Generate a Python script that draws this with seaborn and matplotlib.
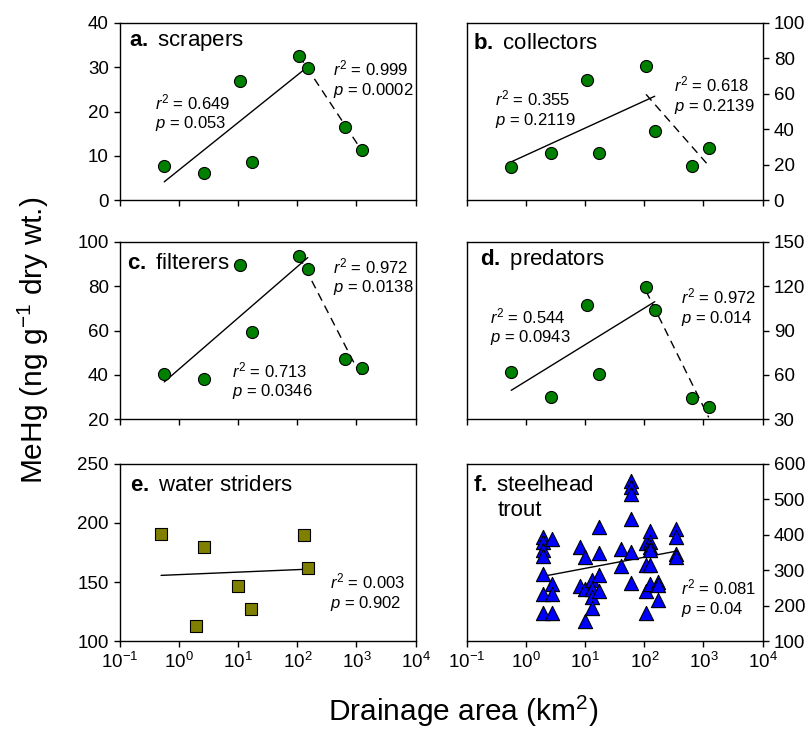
import matplotlib
matplotlib.use("Agg")
import matplotlib.pyplot as plt
import matplotlib.ticker as mticker
import seaborn as sns

# drainage area of the invertebrate sites (km2)
site_area = [0.56, 2.65, 10.7, 16.8, 107, 150, 643, 1230]

scrapers = [7.7, 6.2, 27.0, 8.6, 32.5, 29.9, 16.5, 11.4]
collectors = [18.8, 26.3, 67.7, 26.3, 75.6, 38.9, 19.4, 29.3]
filterers = [40.3, 38.3, 89.5, 59.4, 93.5, 88.0, 46.9, 42.9]
predators = [61.8, 44.7, 107.1, 60.5, 119.8, 104.2, 44.4, 38.1]

# upstream (solid fit) and downstream (dashed fit) site indices
upstream = [0, 1, 2, 3, 4, 5]
downstream = [4, 5, 6, 7]

strider_area = [0.495, 1.91, 2.65, 9.87, 16.4, 131, 152]
striders = [190.6, 112.7, 179.7, 146.7, 127.0, 189.8, 161.9]

trout_area = [1.94, 1.94, 1.94, 1.94, 1.94, 1.94, 1.94,
              2.76, 2.76, 2.76, 2.76,
              8.3, 8.3,
              9.9, 9.9, 9.9,
              13.2, 13.2, 13.2, 13.2,
              17.1, 17.1, 17.1, 17.1,
              39.8, 39.8,
              59, 59, 59, 59, 59, 59,
              105, 105, 105, 105,
              125, 125, 125, 125, 125, 125,
              170, 170, 170,
              340, 340, 340, 340]
trout = [394, 380, 356, 339, 290, 234, 180,
         387, 262, 232, 180,
         365, 255,
         337, 248, 157,
         272, 248, 225, 192,
         422, 349, 286, 242,
         361, 311,
         553, 534, 515, 446, 351, 264,
         376, 314, 241, 178,
         410, 379, 365, 356, 314, 262,
         267, 258, 215,
         417, 394, 347, 336]

sns.set_style("ticks")
plt.rcParams["font.family"] = ["Liberation Sans", "DejaVu Sans"]
plt.rcParams["mathtext.fontset"] = "custom"
plt.rcParams["mathtext.rm"] = "Liberation Sans"
plt.rcParams["mathtext.it"] = "Liberation Sans:italic"
plt.rcParams["mathtext.bf"] = "Liberation Sans:bold"
plt.rcParams["text.color"] = "black"
plt.rcParams["axes.labelcolor"] = "black"
plt.rcParams["xtick.color"] = "black"
plt.rcParams["ytick.color"] = "black"


def stats(r2, p):
    return f"$r^2$ = {r2}\n$p$ = {p}"


def setup_axis(ax, ylim, ystep, right, bottom_labels):
    ax.set_xscale("log")
    ax.set_xlim(0.1, 1e4)
    ax.set_ylim(*ylim)
    ax.xaxis.set_major_locator(mticker.LogLocator(base=10, numticks=10))
    ax.xaxis.set_minor_locator(mticker.NullLocator())
    ax.yaxis.set_major_locator(mticker.MultipleLocator(ystep))
    for s in ax.spines.values():
        s.set_visible(True)
        s.set_linewidth(1.0)
        s.set_color("black")
    ax.tick_params(direction="out", length=4.5, width=1, labelsize=13.5,
                   colors="black", labelbottom=bottom_labels)
    if right:
        ax.yaxis.tick_right()
    ax.set_xlabel("")
    ax.set_ylabel("")


fig = plt.figure(figsize=(8.12, 7.3), dpi=100)
lefts = [0.1478, 0.5751]
bottoms = [0.726, 0.426, 0.1219]
w, h = 0.364, 0.2425

green = "#008000"

panels = [
    ("a.", "scrapers", scrapers, (0, 40), 10, (0.032, 0.89),
     ("0.649", "0.053", 0.119, 0.494), ("0.999", "0.0002", 0.72, 0.683)),
    ("b.", "collectors", collectors, (0, 100), 20, (0.021, 0.885),
     ("0.355", "0.2119", 0.095, 0.513), ("0.618", "0.2139", 0.699, 0.593)),
    ("c.", "filterers", filterers, (20, 100), 20, (0.023, 0.88),
     ("0.713", "0.0346", 0.379, 0.216), ("0.972", "0.0138", 0.72, 0.804)),
    ("d.", "predators", predators, (30, 150), 30, (0.044, 0.90),
     ("0.544", "0.0943", 0.078, 0.522), ("0.972", "0.014", 0.725, 0.63)),
]

for i, (tag, name, vals, ylim, ystep, tpos, st_up, st_dn) in enumerate(panels):
    row, col = divmod(i, 2)
    ax = fig.add_axes([lefts[col], bottoms[row], w, h])
    ax.set_xscale("log")
    up_x = [site_area[k] for k in upstream]
    up_y = [vals[k] for k in upstream]
    dn_x = [site_area[k] for k in downstream]
    dn_y = [vals[k] for k in downstream]
    sns.regplot(x=up_x, y=up_y, logx=True, ci=None, scatter=False, truncate=True,
                color="black", line_kws=dict(lw=1.0), ax=ax)
    sns.regplot(x=dn_x, y=dn_y, logx=True, ci=None, scatter=False, truncate=True,
                color="black", line_kws=dict(lw=1.0, ls=(0, (6, 4))), ax=ax)
    sns.scatterplot(x=site_area, y=vals, color=green, edgecolor="black", s=75,
                    linewidth=0.8, marker="o", zorder=3, ax=ax)
    setup_axis(ax, ylim, ystep, right=(col == 1), bottom_labels=False)
    ax.text(tpos[0], tpos[1], rf"$\mathbf{{{tag}}}$ {name}", transform=ax.transAxes,
            fontsize=16, ha="left", va="center")
    for r2, p, tx, ty in (st_up, st_dn):
        ax.text(tx, ty, stats(r2, p), transform=ax.transAxes, fontsize=12,
                ha="left", va="center", linespacing=1.15)

# e. water striders
ax = fig.add_axes([lefts[0], bottoms[2], w, h])
ax.set_xscale("log")
sns.regplot(x=strider_area, y=striders, logx=True, ci=None, scatter=False,
            truncate=True, color="black", line_kws=dict(lw=1.0), ax=ax)
sns.scatterplot(x=strider_area, y=striders, color="#808000", edgecolor="black",
                s=65, linewidth=0.8, marker="s", zorder=3, ax=ax)
setup_axis(ax, (100, 250), 50, right=False, bottom_labels=True)
ax.text(0.034, 0.876, r"$\mathbf{e.}$ water striders", transform=ax.transAxes,
        fontsize=16, ha="left", va="center")
ax.text(0.712, 0.275, stats("0.003", "0.902"), transform=ax.transAxes,
        fontsize=12, ha="left", va="center", linespacing=1.15)

# f. steelhead trout
ax = fig.add_axes([lefts[1], bottoms[2], w, h])
ax.set_xscale("log")
sns.regplot(x=trout_area, y=trout, logx=True, ci=None, scatter=False,
            truncate=True, color="black", line_kws=dict(lw=1.0), ax=ax)
sns.scatterplot(x=trout_area, y=trout, color="#0000FF", edgecolor="black",
                s=105, linewidth=0.8, marker="^", zorder=3, ax=ax)
setup_axis(ax, (100, 600), 100, right=True, bottom_labels=True)
ax.text(0.019, 0.876, r"$\mathbf{f.}$ steelhead", transform=ax.transAxes,
        fontsize=16, ha="left", va="center")
ax.text(0.103, 0.736, "trout", transform=ax.transAxes,
        fontsize=16, ha="left", va="center")
ax.text(0.725, 0.242, stats("0.081", "0.04"), transform=ax.transAxes,
        fontsize=12, ha="left", va="center", linespacing=1.15)

fig.text(0.041, 0.534, r"MeHg (ng g$^{-1}$ dry wt.)", rotation=90,
         fontsize=21.5, ha="center", va="center")
fig.text(0.570, 0.025, r"Drainage area (km$^2$)", fontsize=21.5,
         ha="center", va="center")

fig.savefig("out.png", dpi=100)
